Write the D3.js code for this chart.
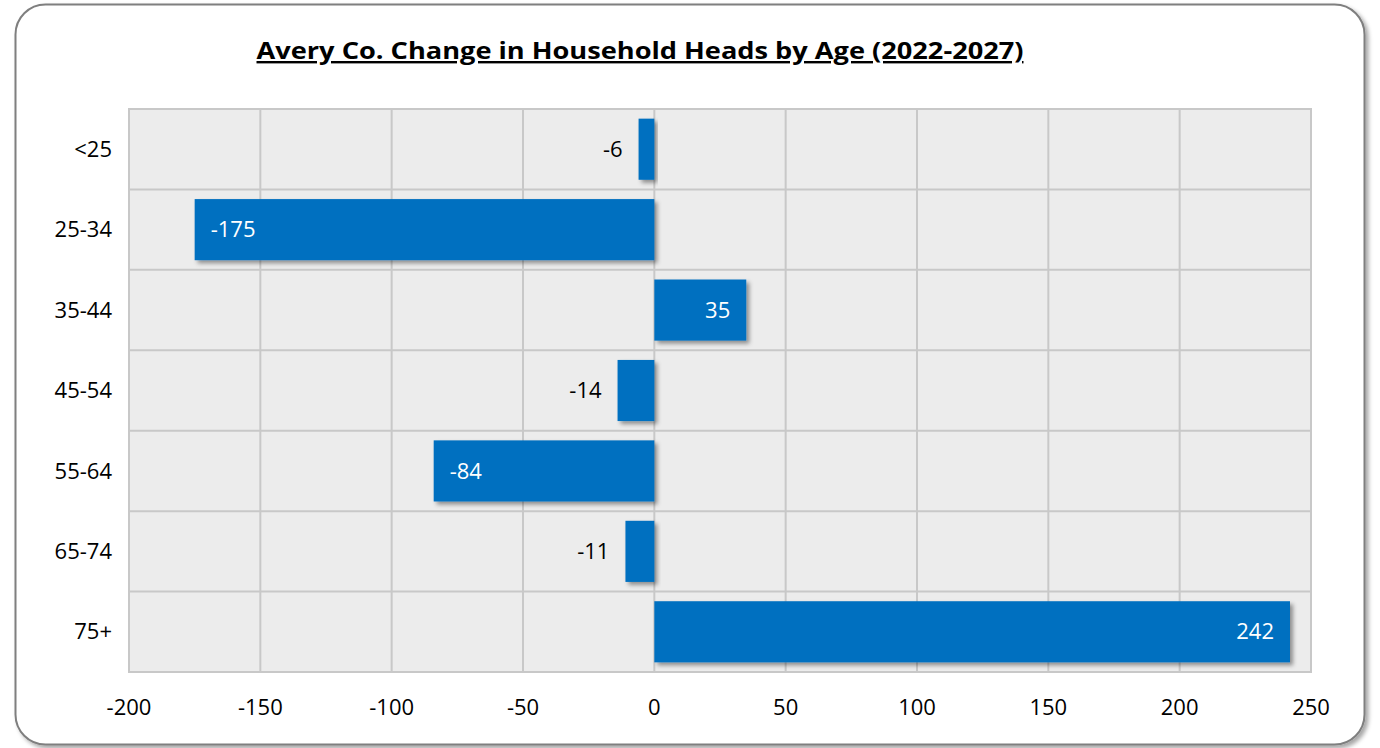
<!DOCTYPE html>
<html>
<head>
<meta charset="utf-8">
<script src="https://cdn.jsdelivr.net/npm/d3@7"></script>
<style>
  body { margin: 0; background: #fff; }
  svg { display: block; font-family: "Open Sans", sans-serif; }
</style>
</head>
<body>
<svg id="chart" width="1380" height="748"></svg>
<script>
const ageGroups = ['<25', '25-34', '35-44', '45-54', '55-64', '65-74', '75+'];
const changes = [-6, -175, 35, -14, -84, -11, 242];
const xTicks = [-200, -150, -100, -50, 0, 50, 100, 150, 200, 250];
const chartTitle = 'Avery Co. Change in Household Heads by Age (2022-2027)';

const barColor = '#0070c0';
const gridColor = '#c8c8c8';
const fontSize = 22;

const svg = d3.select('#chart');
const plot = { left: 129, right: 1311, top: 109, bottom: 672 };

const defs = svg.append('defs');
// frame shadow
const fs = defs.append('filter').attr('id', 'frameShadow')
  .attr('x', '-5%').attr('y', '-5%').attr('width', '110%').attr('height', '110%');
fs.append('feDropShadow').attr('dx', 3).attr('dy', 3).attr('stdDeviation', 2)
  .attr('flood-color', '#000').attr('flood-opacity', 0.35);
// bar shadow
const bs = defs.append('filter').attr('id', 'barShadow')
  .attr('x', '-10%').attr('y', '-20%').attr('width', '130%').attr('height', '150%');
bs.append('feDropShadow').attr('dx', 3).attr('dy', 3).attr('stdDeviation', 2)
  .attr('flood-color', '#000').attr('flood-opacity', 0.4);

// outer rounded frame
svg.append('rect')
  .attr('x', 15.5).attr('y', 4.5)
  .attr('width', 1349).attr('height', 740)
  .attr('rx', 30).attr('ry', 30)
  .attr('fill', '#fff')
  .attr('stroke', '#7f7f7f')
  .attr('stroke-width', 2)
  .attr('filter', 'url(#frameShadow)');

// title
svg.append('text')
  .attr('x', 640).attr('y', 59)
  .attr('text-anchor', 'middle')
  .attr('font-size', 24)
  .attr('font-weight', 'bold')
  .attr('text-decoration', 'underline')
  .attr('fill', '#000')
  .attr('textLength', 767)
  .attr('lengthAdjust', 'spacingAndGlyphs')
  .text(chartTitle);

const x = d3.scaleLinear()
  .domain([xTicks[0], xTicks[xTicks.length - 1]])
  .range([plot.left, plot.right]);

const y = d3.scaleBand()
  .domain(ageGroups)
  .range([plot.top, plot.bottom])
  .paddingInner(0.24)
  .paddingOuter(0.12);

// plot background
svg.append('rect')
  .attr('x', plot.left).attr('y', plot.top)
  .attr('width', plot.right - plot.left).attr('height', plot.bottom - plot.top)
  .attr('fill', '#ececec');

// vertical gridlines
svg.append('g')
  .selectAll('line')
  .data(xTicks)
  .join('line')
  .attr('x1', d => x(d)).attr('x2', d => x(d))
  .attr('y1', plot.top).attr('y2', plot.bottom)
  .attr('stroke', gridColor).attr('stroke-width', 2);

// horizontal gridlines (band boundaries)
const step = (plot.bottom - plot.top) / ageGroups.length;
const hLines = d3.range(ageGroups.length + 1).map(i => plot.top + i * step);
svg.append('g')
  .selectAll('line')
  .data(hLines)
  .join('line')
  .attr('x1', plot.left).attr('x2', plot.right)
  .attr('y1', d => d).attr('y2', d => d)
  .attr('stroke', gridColor).attr('stroke-width', 2);

// plot border
svg.append('rect')
  .attr('x', plot.left).attr('y', plot.top)
  .attr('width', plot.right - plot.left).attr('height', plot.bottom - plot.top)
  .attr('fill', 'none').attr('stroke', gridColor).attr('stroke-width', 2);

const data = ageGroups.map((g, i) => ({ group: g, value: changes[i] }));

// bars
svg.append('g')
  .selectAll('rect')
  .data(data)
  .join('rect')
  .attr('x', d => x(Math.min(0, d.value)))
  .attr('width', d => Math.abs(x(d.value) - x(0)))
  .attr('y', d => y(d.group))
  .attr('height', y.bandwidth())
  .attr('fill', barColor)
  .attr('filter', 'url(#barShadow)');

// data labels: inside end when wide enough, otherwise outside
svg.append('g')
  .selectAll('text')
  .data(data)
  .join('text')
  .attr('font-size', fontSize)
  .attr('y', d => y(d.group) + y.bandwidth() / 2)
  .attr('dy', '0.35em')
  .each(function(d) {
    const w = Math.abs(x(d.value) - x(0));
    const inside = w > 50;
    const t = d3.select(this);
    t.text(d.value);
    if (d.value < 0) {
      if (inside) t.attr('x', x(d.value) + 16).attr('text-anchor', 'start').attr('fill', '#fff');
      else t.attr('x', x(d.value) - 16).attr('text-anchor', 'end').attr('fill', '#000');
    } else {
      t.attr('x', x(d.value) - 16).attr('text-anchor', 'end').attr('fill', '#fff');
    }
  });

// category labels
svg.append('g')
  .selectAll('text')
  .data(ageGroups)
  .join('text')
  .attr('x', 112)
  .attr('y', d => y(d) + y.bandwidth() / 2)
  .attr('dy', '0.35em')
  .attr('text-anchor', 'end')
  .attr('font-size', fontSize)
  .attr('fill', '#000')
  .text(d => d);

// x tick labels
svg.append('g')
  .selectAll('text')
  .data(xTicks)
  .join('text')
  .attr('x', d => x(d))
  .attr('y', 715)
  .attr('text-anchor', 'middle')
  .attr('font-size', fontSize)
  .attr('fill', '#000')
  .text(d => d);
</script>
</body>
</html>
